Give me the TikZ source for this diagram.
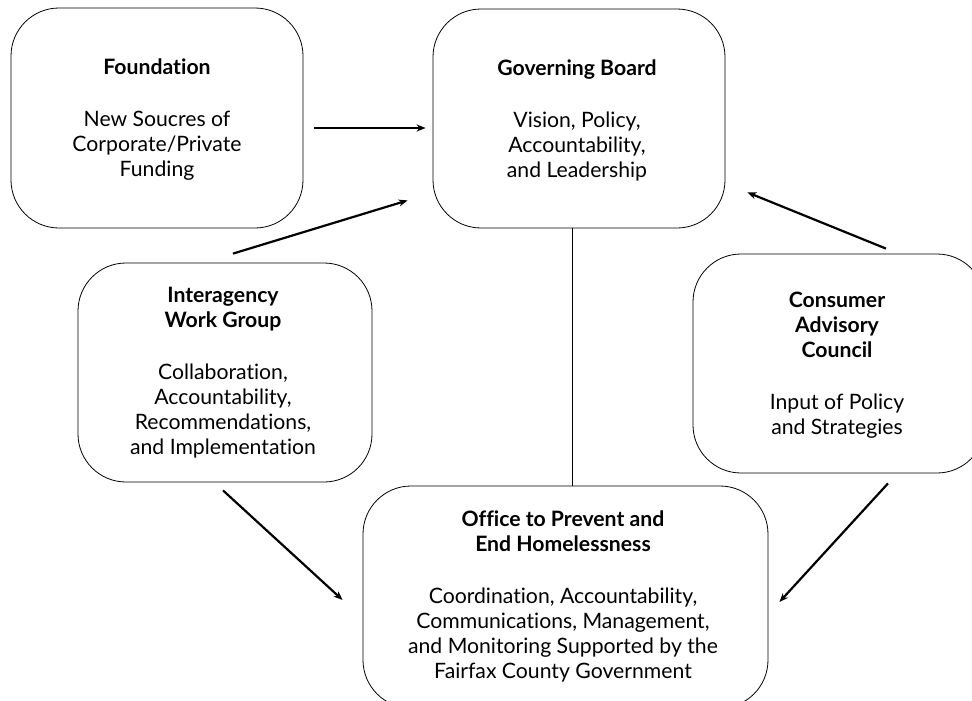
\documentclass[tikz,border=0pt]{standalone}
\usepackage{fontspec}
\setmainfont[Ligatures=NoCommon]{Lato}
\usetikzlibrary{arrows.meta,calc}
\begin{document}
\begin{tikzpicture}[x=1pt,y=-1pt,
  box/.style={draw, line width=0.8pt, rounded corners=48pt, inner sep=0pt},
  txt/.style={align=center, font=\fontsize{21.2}{25}\selectfont, inner sep=0pt},
  arr/.style={line width=2.2pt, -{Stealth[length=9pt,width=7pt]}},
  link/.style={line width=0.8pt}]
\useasboundingbox (0,0) rectangle (972,701);

\node[box, minimum width=292pt, minimum height=220pt] (found) at (157,118) {};
\node[box, minimum width=292pt, minimum height=219pt] (gov) at (579,118.5) {};
\node[box, minimum width=294pt, minimum height=219pt] (inter) at (225,372.5) {};
\node[box, minimum width=292pt, minimum height=219pt] (cons) at (839,363.5) {};
\node[box, minimum width=405pt, minimum height=222pt] (office) at (565.5,597) {};

\node[txt] (foundT) at (157,120) {\textbf{Foundation}\\[27pt]New Soucres of\\Corporate/Private\\Funding};
\node[txt] (govT) at (577,120) {\textbf{Governing Board}\\[27pt]Vision, Policy,\\Accountability,\\and Leadership};
\node[txt] (interT) at (223,372.5) {\textbf{Interagency}\\\textbf{Work Group}\\[27pt]Collaboration,\\Accountability,\\Recommendations,\\and Implementation};
\node[txt] (consT) at (837,365) {\textbf{Consumer}\\\textbf{Advisory}\\\textbf{Council}\\[27pt]Input of Policy\\and Strategies};
\node[txt] (officeT) at (563,596) {\textbf{Office to Prevent and}\\\textbf{End Homelessness}\\[27pt]Coordination, Accountability,\\Communications, Management,\\and Monitoring Supported by the\\Fairfax County Government};

\draw[link] ($(gov.south)+(-7,0)$) -- ($(office.north)+(6.5,0)$);

\draw[arr] ($(found.east)+(11,10)$) -- ($(gov.west)+(-7,9.5)$);
\draw[arr] ($(inter.north)+(8,-9)$) -- ($(gov.south west)+(-25,-28)$);
\draw[arr] ($(cons.north)+(47,-5)$) -- ($(gov.south east)+(22,-36)$);
\draw[arr] ($(inter.south)+(-2,8)$) -- ($(office.west)+(-20,3)$);
\draw[arr] ($(cons.south)+(49,10)$) -- ($(office.east)+(11,5)$);
\end{tikzpicture}
\end{document}
